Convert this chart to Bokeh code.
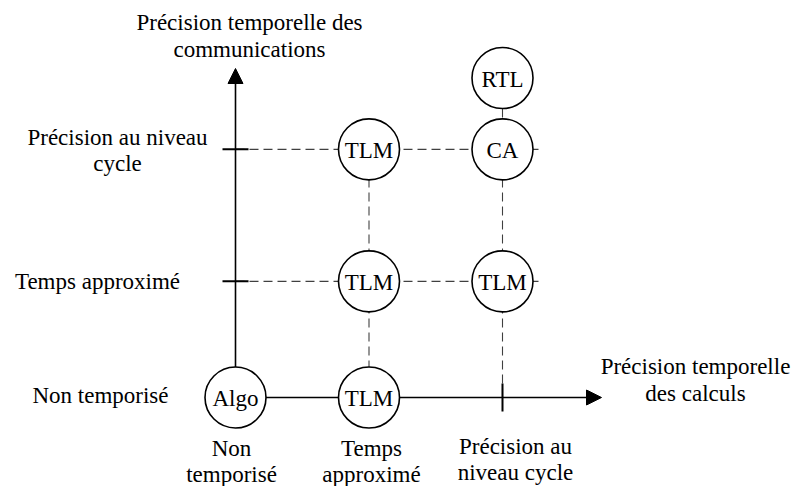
from bokeh.plotting import figure
from bokeh.models import Range1d, Arrow, NormalHead, ColumnDataSource
from bokeh.core.properties import value
from bokeh.embed import file_html
from bokeh.resources import INLINE

# ---- data ----
comp_labels = ["Non\ntemporisé", "Temps\napproximé", "Précision au\nniveau cycle"]
comp_pos = [0, 1, 2]
comm_labels = ["Non temporisé", "Temps approximé", "Précision au niveau\ncycle"]
comm_pos = [0, 0.88, 1.88]
x_title = "Précision temporelle\ndes calculs"
y_title = "Précision temporelle des\ncommunications"

model_names = ["Algo", "TLM", "TLM", "TLM", "TLM", "CA", "RTL"]
model_x = [0, 1, 1, 2, 1, 2, 2]
model_y = [0, 0, 0.88, 0.88, 1.88, 1.88, 2.42]

# ---- geometry helpers (page pixel -> data units) ----
W, H = 792, 486
XS, YS = 133.5, 132.0
X0PX, Y0PX = 235, 397


def px2x(px):
    return (px - X0PX) / XS


def py2y(py):
    return (Y0PX - py) / YS


FONT = value("Liberation Serif")
FS = "23px"

p = figure(width=W, height=H, output_backend="svg", toolbar_location=None,
           x_range=Range1d(px2x(0), px2x(W)),
           y_range=Range1d(py2y(H), py2y(0)),
           min_border=0, outline_line_color=None)
p.axis.visible = False
p.grid.visible = False
p.background_fill_color = "white"
p.border_fill_color = "white"

DASH_COL = "#404040"
DASH = "9 5"
# horizontal dashed guides
for yy in comm_pos[1:]:
    p.line([comp_pos[0], px2x(540)], [yy, yy], line_color=DASH_COL,
           line_dash=DASH, line_width=1.1)
# vertical dashed guides
p.line([comp_pos[1], comp_pos[1]], [comm_pos[0], py2y(117)], line_color=DASH_COL,
       line_dash=DASH, line_width=1.1)
p.line([comp_pos[2], comp_pos[2]], [comm_pos[0], model_y[-1]], line_color=DASH_COL,
       line_dash=DASH, line_width=1.1)

# axis lines (drawn behind circles)
p.line([comp_pos[0], px2x(588)], [comm_pos[0], comm_pos[0]],
       line_color="black", line_width=1.6)
p.line([comp_pos[0], comp_pos[0]], [comm_pos[0], py2y(80)],
       line_color="black", line_width=1.6)
# arrow heads
p.add_layout(Arrow(end=NormalHead(size=15, fill_color="black", line_color="black"),
                   x_start=px2x(588), y_start=comm_pos[0],
                   x_end=px2x(601), y_end=comm_pos[0],
                   line_width=1.6, line_color="black"))
p.add_layout(Arrow(end=NormalHead(size=15, fill_color="black", line_color="black"),
                   x_start=comp_pos[0], y_start=py2y(82),
                   x_end=comp_pos[0], y_end=py2y(68),
                   line_width=1.6, line_color="black"))

# ticks
p.scatter([comp_pos[0]] * 2, comm_pos[1:], marker="dash", size=26,
          line_color="black", line_width=2)
p.scatter([comp_pos[2]], [comm_pos[0]], marker="dash", size=28, angle=1.5708,
          line_color="black", line_width=2)

# model circles
src = ColumnDataSource(dict(x=model_x, y=model_y, name=model_names))
p.scatter("x", "y", source=src, marker="circle", size=61, fill_color="white",
          line_color="black", line_width=1.6)
p.text("x", "y", text="name", source=src, text_font=FONT, text_font_size=FS,
       text_align="center", text_baseline="middle", text_color="black",
       y_offset=1)

TXT_SHIFT = -5


def put(label, cx_px, base_px, gap=26.5):
    lines = label.split("\n")
    p.text([px2x(cx_px)] * len(lines),
           [py2y(base_px + TXT_SHIFT + i * gap) for i in range(len(lines))],
           text=lines, text_font=FONT, text_font_size=FS,
           text_align="center", text_baseline="alphabetic", text_color="black")


# communication level labels (left)
put(comm_labels[0], 100, 400)
put(comm_labels[1], 97, 286)
put(comm_labels[2], 117, 142, gap=25.5)
# computation level labels (bottom)
put(comp_labels[0], 231, 453, gap=26)
put(comp_labels[1], 371, 453, gap=26)
put(comp_labels[2], 515, 451, gap=26)
# axis titles
put(x_title, 695, 371)
put(y_title, 249, 27)

open("out.html", "w").write(file_html(p, INLINE))
